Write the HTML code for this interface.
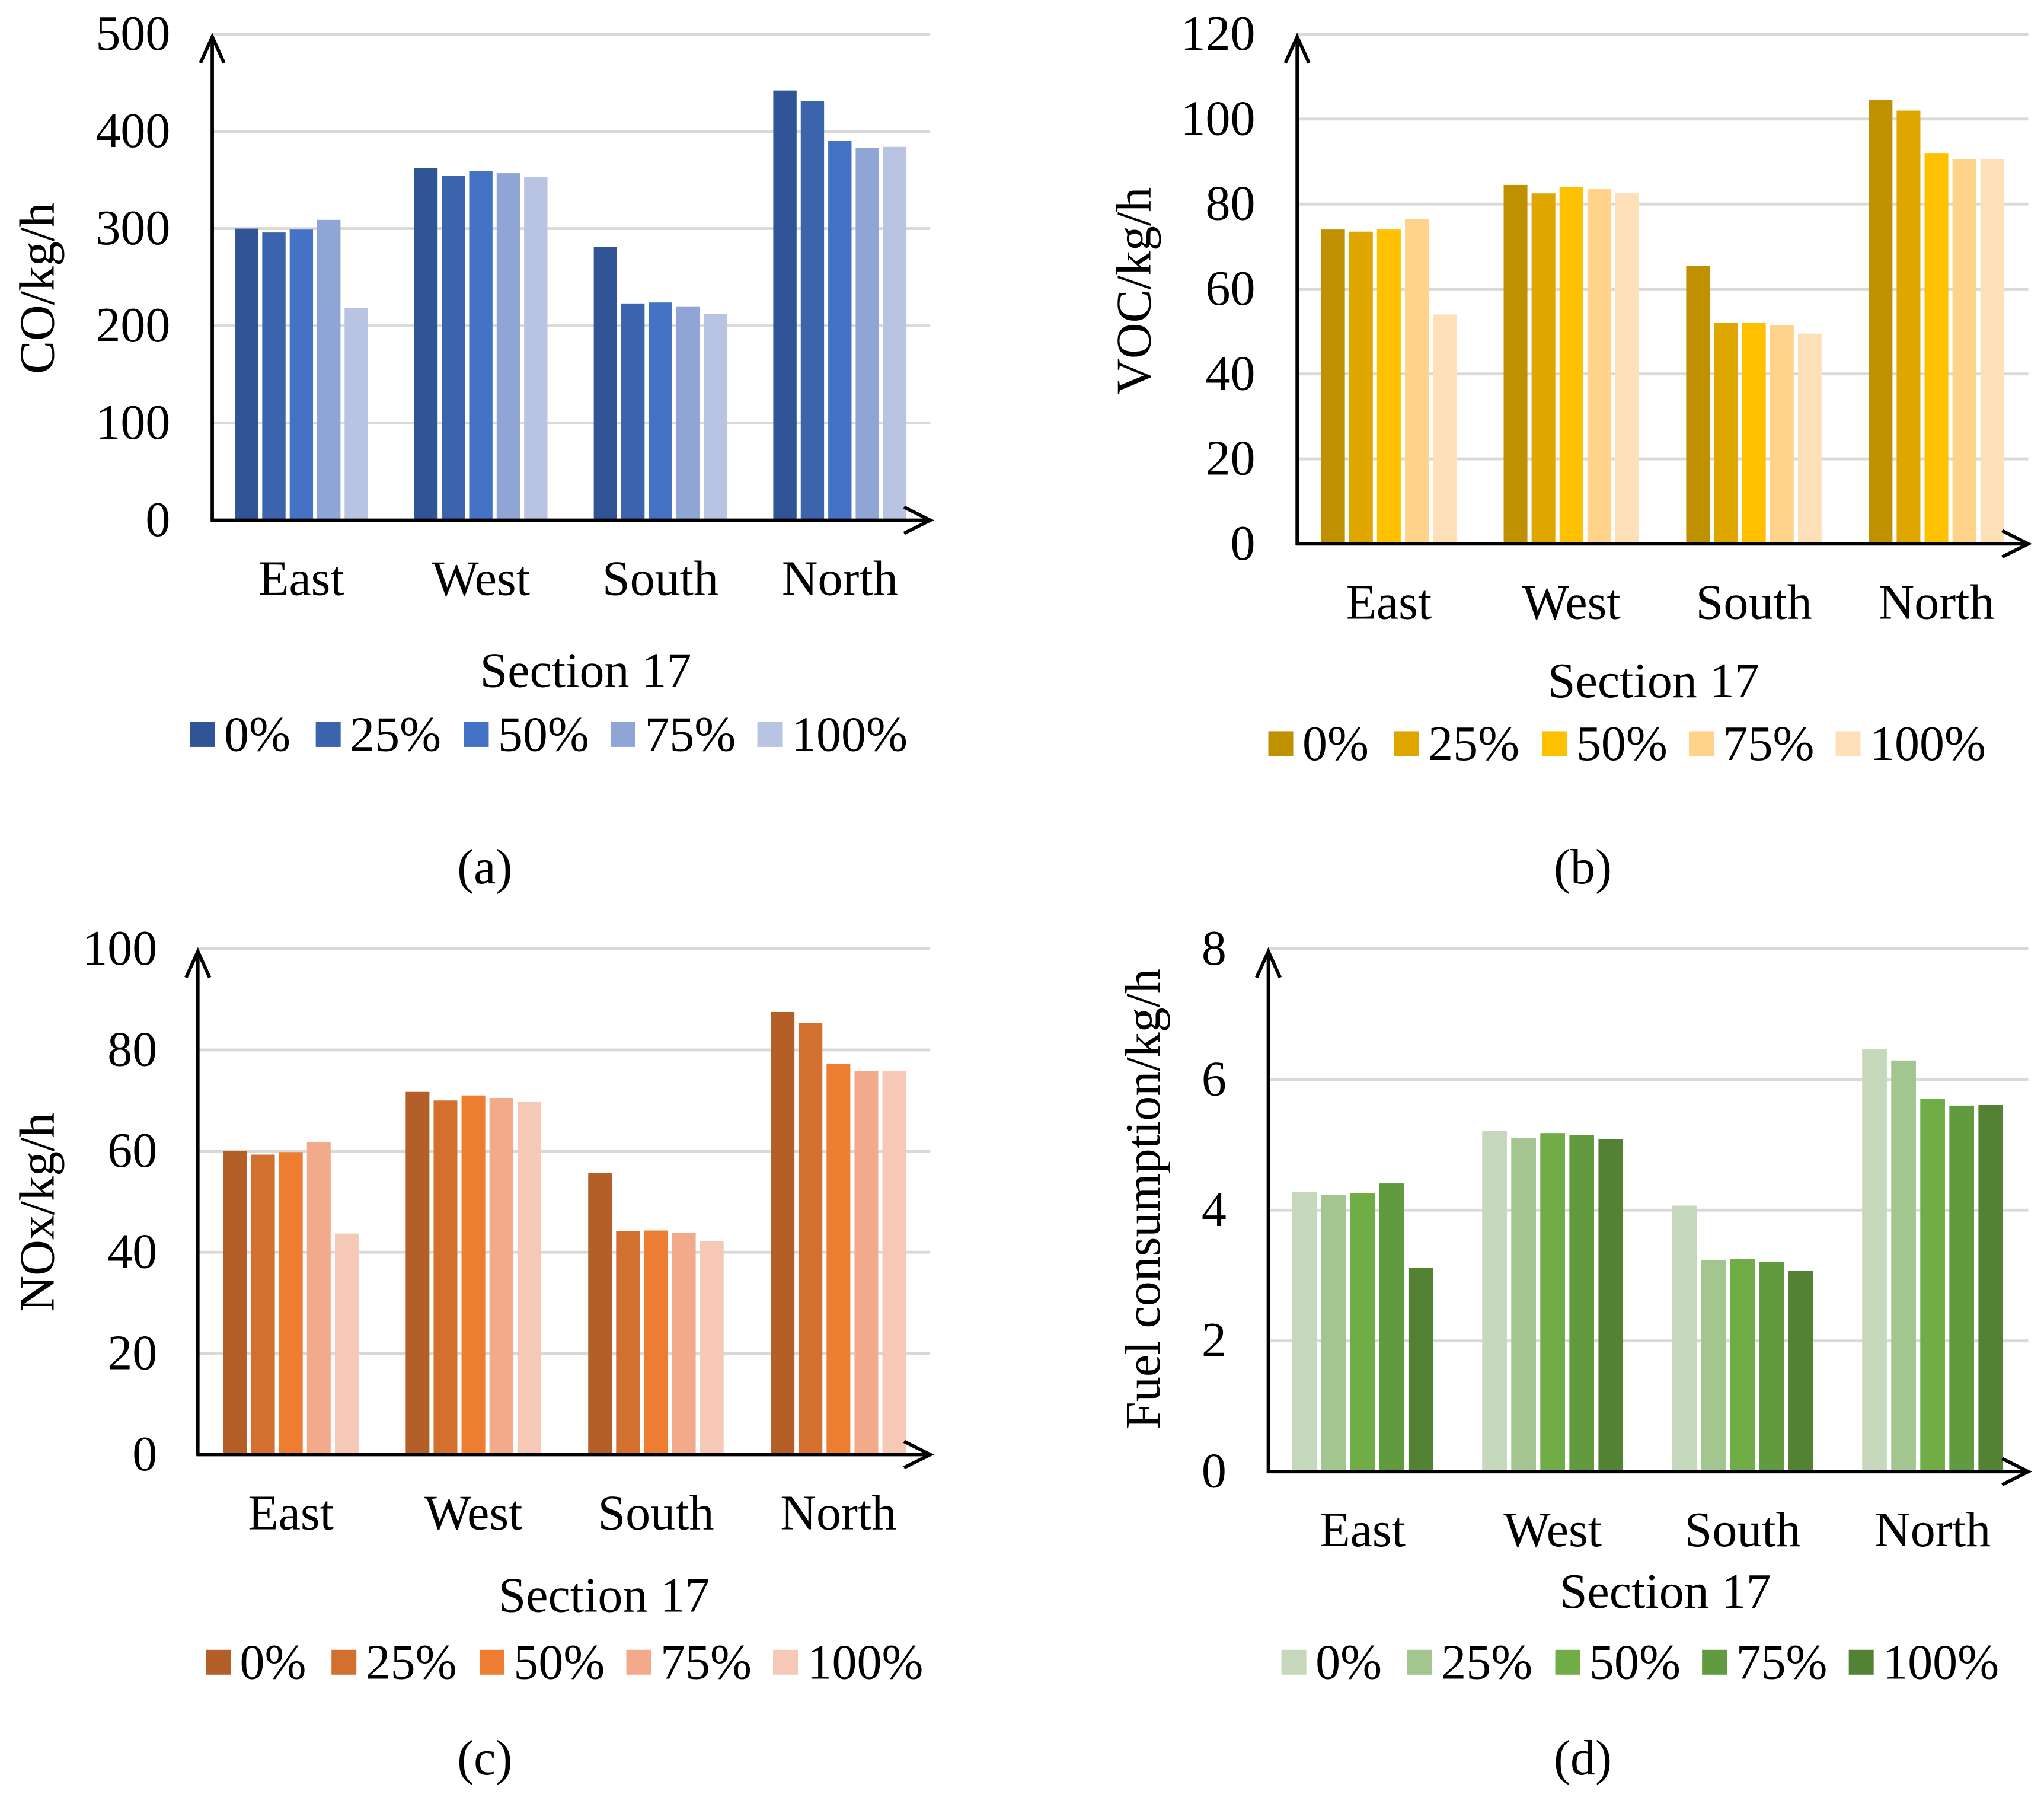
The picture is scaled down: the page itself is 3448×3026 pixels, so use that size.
<!DOCTYPE html>
<html><head><meta charset="utf-8"><style>
html,body{margin:0;padding:0;background:#fff}
svg{display:block}
text{font-family:"Liberation Serif",serif;fill:#000}
</style></head><body>
<svg id="fig" width="3448" height="3026" viewBox="0 0 1560 1369" xmlns="http://www.w3.org/2000/svg"></svg>
<script>
const categories = ["East","West","South","North"];
const seriesNames = ["0%","25%","50%","75%","100%"];
const coValues = [[300,362,281,442],[296,354,223,431],[299,359,224,390],[309,357,220,383],[218,353,212,384]];
const vocValues = [[74,84.5,65.5,104.5],[73.5,82.5,52,102],[74,84,52,92],[76.5,83.5,51.5,90.5],[54,82.5,49.5,90.5]];
const noxValues = [[60,71.7,55.7,87.5],[59.3,70,44.2,85.3],[59.8,71,44.3,77.3],[61.8,70.5,43.8,75.8],[43.7,69.8,42.2,75.9]];
const fuelValues = [[4.28,5.21,4.07,6.46],[4.23,5.1,3.24,6.29],[4.26,5.18,3.25,5.7],[4.41,5.15,3.21,5.6],[3.12,5.09,3.07,5.61]];
const coTicks = [0,100,200,300,400,500];
const vocTicks = [0,20,40,60,80,100,120];
const noxTicks = [0,20,40,60,80,100];
const fuelTicks = [0,2,4,6,8];

const NS="http://www.w3.org/2000/svg";
const svg=document.getElementById('fig');
function mk(tag,attrs,parent){const e=document.createElementNS(NS,tag);for(const k in attrs)e.setAttribute(k,attrs[k]);(parent||svg).appendChild(e);return e;}

const panels=[
 {id:"co",vals:coValues,ticks:coTicks,ax:162,y0:397,ytop:26,xend:710,c0:230,sp:137,tickX:130,title:"CO/kg/h",tx:28,ty:220,secX:447,secY:512,legX:145,legY:560,lab:"(a)",labX:370,labY:662,
  colors:["#305496","#3B64AD","#4472C4","#8FA5D5","#B9C3E2"]},
 {id:"voc",vals:vocValues,ticks:vocTicks,ax:990,y0:415,ytop:26,xend:1548,c0:1060,sp:139.3,tickX:958,title:"VOC/kg/h",tx:865,ty:222,secX:1262,secY:520,legX:968,legY:567,lab:"(b)",labX:1208,labY:662,
  colors:["#BF9000","#DFA600","#FFC000","#FFD38A","#FEE0B8"]},
 {id:"nox",vals:noxValues,ticks:noxTicks,ax:151,y0:1110,ytop:724,xend:710,c0:222,sp:139.3,tickX:120,title:"NOx/kg/h",tx:28,ty:925,secX:461,secY:1218,legX:157,legY:1268,lab:"(c)",labX:370,labY:1342,
  colors:["#B45F27","#D3702F","#ED7D31","#F2AA8A","#F6C8B6"]},
 {id:"fuel",vals:fuelValues,ticks:fuelTicks,ax:968,y0:1123,ytop:724,xend:1548,c0:1040,sp:145,tickX:936,title:"Fuel consumption/kg/h",tx:872,ty:915,secX:1271,secY:1215,legX:978,legY:1268,lab:"(d)",labX:1208,labY:1342,
  colors:["#C5D8BC","#A3C590","#70AD47","#629B3F","#548235"]}
];
const FS=38;
panels.forEach(p=>{
 const g=mk('g',{});
 
 
 const tmax=p.ticks[p.ticks.length-1];
 const yS=v=>p.y0-(v/tmax)*(p.y0-p.ytop);
 const xC=i=>p.c0+i*p.sp;
 // gridlines & tick labels
 p.ticks.forEach(t=>{
  if(t>0){const l=mk('line',{x1:p.ax,x2:p.xend,y1:yS(t),y2:yS(t),stroke:"#d9d9d9","stroke-width":2.2},g);
   }
  const tx=mk('text',{x:p.tickX,y:yS(t)+12,"text-anchor":"end","font-size":FS},g);tx.textContent=t;
  
 });
 // bars
 const step=p.sp*0.153, bw=step*0.85;
 p.vals.forEach((ser,s)=>{
  ser.forEach((v,i)=>{
   const x=xC(i)+(s-2)*step-bw/2;
   const r=mk('rect',{x:x,y:yS(v),width:bw,height:p.y0-yS(v),fill:p.colors[s]},g);
   
   
  });
 });
 // axes
 const ya=mk('path',{d:`M${p.ax} ${p.y0+1}V${p.ytop+2}M${p.ax-9} ${p.ytop+22}L${p.ax} ${p.ytop+2}L${p.ax+9} ${p.ytop+22}`,stroke:"#000","stroke-width":2.6,fill:"none"},g);
 
 const xa=mk('path',{d:`M${p.ax-1} ${p.y0}H${p.xend}M${p.xend-20} ${p.y0-10}L${p.xend} ${p.y0}L${p.xend-20} ${p.y0+10}`,stroke:"#000","stroke-width":2.6,fill:"none"},g);
 
 categories.forEach((c,i)=>{
  const t=mk('text',{x:xC(i),y:p.y0+57,"text-anchor":"middle","font-size":FS},g);t.textContent=c;
  
 });
 const yt=mk('text',{x:0,y:0,"text-anchor":"middle","font-size":FS,transform:`translate(${p.tx+13},${p.ty}) rotate(-90)`},g);yt.textContent=p.title;
 
 const st=mk('text',{x:p.secX,y:p.secY+12,"text-anchor":"middle","font-size":FS},g);st.textContent="Section 17";
 
 const offs=[0,96,209,321,433];
 seriesNames.forEach((n,s)=>{
  const lx=p.legX+offs[s];
  const sq=mk('rect',{x:lx,y:p.legY-9,width:19,height:19,fill:p.colors[s]},g);
  
  const lt=mk('text',{x:lx+26,y:p.legY+13,"font-size":FS},g);lt.textContent=n;
  
 });
 const pl=mk('text',{x:p.labX,y:p.labY+12,"text-anchor":"middle","font-size":FS},g);pl.textContent=p.lab;
 
});
</script>
</body></html>
